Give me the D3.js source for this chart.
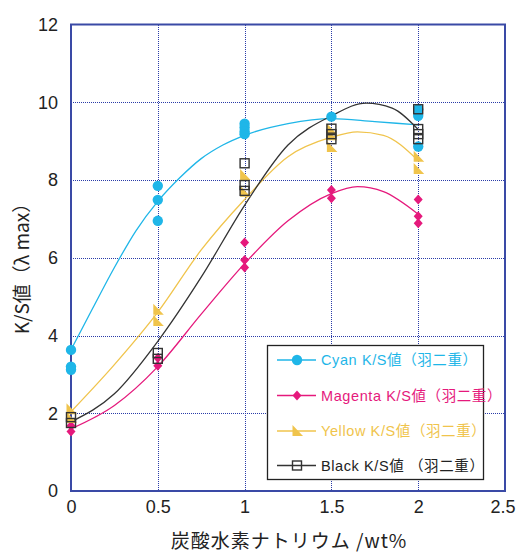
<!DOCTYPE html>
<html><head><meta charset="utf-8">
<script src="https://cdn.jsdelivr.net/npm/d3@7"></script>
<style>body{margin:0;background:#fff}svg{display:block}</style>
</head><body>
<script>
// ---- data ----
const xTicks = [0, 0.5, 1, 1.5, 2, 2.5];
const xTickLabels = ["0", "0.5", "1", "1.5", "2", "2.5"];
const yTicks = [0, 2, 4, 6, 8, 10, 12];
const seriesNames = ["Cyan K/S値（羽二重）", "Magenta K/S値（羽二重）", "Yellow K/S値（羽二重）", "Black K/S値 （羽二重）"];
const seriesColors = ["#1fb6e8", "#e5197c", "#f0c44c", "#333333"];
const seriesSymbols = ["circle", "diamond", "triangle", "square"];

const cyanPoints = [[0,3.63],[0,3.2],[0,3.12],[0.5,7.85],[0.5,7.49],[0.5,6.95],[1,9.45],[1,9.35],[1,9.25],[1,9.18],[1.5,9.63],[2,9.82],[2,9.65],[2,8.86]];
const magentaPoints = [[0,1.53],[0,1.68],[0.5,3.22],[0.5,3.42],[1,6.39],[1,5.94],[1,5.75],[1.5,7.74],[1.5,7.53],[2,7.5],[2,7.07],[2,6.89]];
const yellowPoints = [[0,2.1],[0,1.88],[0.5,4.66],[0.5,4.37],[1,8.13],[1,7.7],[1.5,9.3],[1.5,9.15],[1.5,8.85],[2,8.6],[2,8.28]];
const blackPoints = [[0,1.9],[0,1.75],[0.5,3.55],[0.5,3.4],[1,8.43],[1,7.87],[1,7.72],[1.5,9.32],[1.5,9.18],[1.5,9.05],[2,9.82],[2,9.31],[2,9.18],[2,9.05]];

// trend curves
const cyanTrend = [[0,3.63],[0.125,4.7],[0.25,5.75],[0.375,6.7],[0.5,7.45],[0.625,8.05],[0.75,8.55],[0.875,8.9],[1,9.15],[1.25,9.45],[1.5,9.58],[1.75,9.5],[2,9.42]];
const magentaTrend = [[0,1.6],[0.25,2.2],[0.5,3.2],[0.75,4.55],[1,5.85],[1.25,6.95],[1.5,7.65],[1.65,7.83],[1.8,7.7],[2,7.12]];
const yellowTrend = [[0,2.04],[0.25,3.25],[0.5,4.6],[0.75,6.2],[1,7.5],[1.25,8.6],[1.5,9.1],[1.65,9.24],[1.8,9.15],[2,8.5]];
const blackTrend = [[0,1.78],[0.25,2.5],[0.5,3.85],[0.75,5.5],[1,7.35],[1.25,8.9],[1.5,9.65],[1.7,9.98],[1.85,9.85],[2,9.3]];

const xTitle = "炭酸水素ナトリウム /wt%";
const yTitle = "K/S値（λ max）";

// ---- drawing ----
const W = 516, H = 553;
const svg = d3.select("body").append("svg").attr("width", W).attr("height", H);
const x = d3.scaleLinear().domain([0, 2.5]).range([71, 505]);
const y = d3.scaleLinear().domain([0, 12]).range([491, 24.5]);
const px = v => Math.round(v) + 0.5;
const gridColor = "#2a3ba8", frameColor = "#3a4aa6";
const font = "'Liberation Sans', Arial, sans-serif";

// grid
const grid = svg.append("g").attr("shape-rendering", "crispEdges");
grid.selectAll("line.v").data(xTicks.filter(d => d > 0 && d < 2.5)).join("line")
  .attr("x1", d => px(x(d))).attr("x2", d => px(x(d))).attr("y1", y(12)).attr("y2", y(0))
  .attr("stroke", gridColor).attr("stroke-width", 1).attr("stroke-dasharray", "1,1");
grid.selectAll("line.h").data(yTicks.filter(d => d > 0 && d < 12)).join("line")
  .attr("y1", d => px(y(d))).attr("y2", d => px(y(d))).attr("x1", x(0)).attr("x2", x(2.5))
  .attr("stroke", gridColor).attr("stroke-width", 1).attr("stroke-dasharray", "1,1");

// frame
svg.append("rect").attr("x", x(0)).attr("y", y(12)).attr("width", x(2.5) - x(0)).attr("height", y(0) - y(12))
  .attr("fill", "none").attr("stroke", frameColor).attr("stroke-width", 2);

// axes labels
const xAxis = d3.axisBottom(x).tickValues(xTicks).tickSize(0).tickPadding(9).tickFormat((d, i) => xTickLabels[i]);
const gx = svg.append("g").attr("transform", `translate(0,${y(0)})`).call(xAxis);
gx.select(".domain").remove();
gx.selectAll("text").attr("font-family", font).attr("font-size", 18).attr("fill", "#222");
gx.selectAll("text").filter(d => d === 2.5).attr("text-anchor", "end").attr("x", 515 - x(2.5));
const yAxis = d3.axisLeft(y).tickValues(yTicks).tickSize(0).tickPadding(13).tickFormat(d3.format("d"));
const gy = svg.append("g").attr("transform", `translate(${x(0)},0)`).call(yAxis);
gy.select(".domain").remove();
gy.selectAll("text").attr("font-family", font).attr("font-size", 18).attr("fill", "#222");

// titles
svg.append("text").attr("x", 289).attr("y", 548).attr("text-anchor", "middle")
  .attr("font-family", "'Noto Sans CJK JP', sans-serif").attr("font-size", 19).attr("fill", "#222")
  .attr("letter-spacing", 1).text(xTitle);
svg.append("text").attr("transform", "translate(29,264) rotate(-90)").attr("text-anchor", "middle")
  .attr("font-family", "'Noto Sans CJK JP', sans-serif").attr("font-size", 19).attr("fill", "#222")
  .text(yTitle);

// curves
const trends = [cyanTrend, magentaTrend, yellowTrend, blackTrend];
const line = d3.line().x(d => x(d[0])).y(d => y(d[1])).curve(d3.curveMonotoneX);
svg.append("g").selectAll("path").data(trends).join("path")
  .attr("d", line).attr("fill", "none")
  .attr("stroke", (d, i) => seriesColors[i]).attr("stroke-width", 1.3);

// markers
function marker(sel, type, color) {
  if (type === "circle") sel.append("circle").attr("r", 5.2).attr("fill", color);
  else if (type === "diamond") sel.append("path").attr("d", "M0,-5L4.5,0L0,5L-4.5,0Z").attr("fill", color);
  else if (type === "triangle") sel.append("path").attr("d", "M-4.5,-6L-4.5,5L6,5Z").attr("fill", color);
  else if (type === "square") sel.append("rect").attr("x", -4.5).attr("y", -4.5).attr("width", 9).attr("height", 9)
    .attr("fill", "none").attr("stroke", color).attr("stroke-width", 1.4);
}
const pointSets = [cyanPoints, magentaPoints, yellowPoints, blackPoints];
pointSets.forEach((pts, i) => {
  const g = svg.append("g");
  pts.forEach(p => {
    const m = g.append("g").attr("transform", `translate(${x(p[0])},${y(p[1])})`);
    marker(m, seriesSymbols[i], seriesColors[i]);
  });
});

// legend
const lg = svg.append("g");
lg.append("rect").attr("x", 267.5).attr("y", 345.5).attr("width", 216).attr("height", 134)
  .attr("fill", "#fff").attr("stroke", "#222").attr("stroke-width", 1.3);
const rowsY = [360, 395.5, 431, 465.5];
seriesNames.forEach((name, i) => {
  const r = lg.append("g").attr("transform", `translate(0,${rowsY[i]})`);
  r.append("line").attr("x1", 277).attr("x2", 316).attr("y1", 0).attr("y2", 0)
    .attr("stroke", seriesColors[i]).attr("stroke-width", 1.3);
  const m = r.append("g").attr("transform", "translate(297,0)");
  marker(m, seriesSymbols[i], seriesColors[i]);
  r.append("text").attr("x", 321).attr("y", 0).attr("dy", "0.36em")
    .attr("font-family", "'Liberation Sans', 'Noto Sans CJK JP', sans-serif").attr("font-size", 14.5)
    .attr("letter-spacing", 0.6)
    .attr("fill", seriesColors[i] === "#333333" ? "#222" : seriesColors[i]).text(name);
});
</script>
</body></html>
